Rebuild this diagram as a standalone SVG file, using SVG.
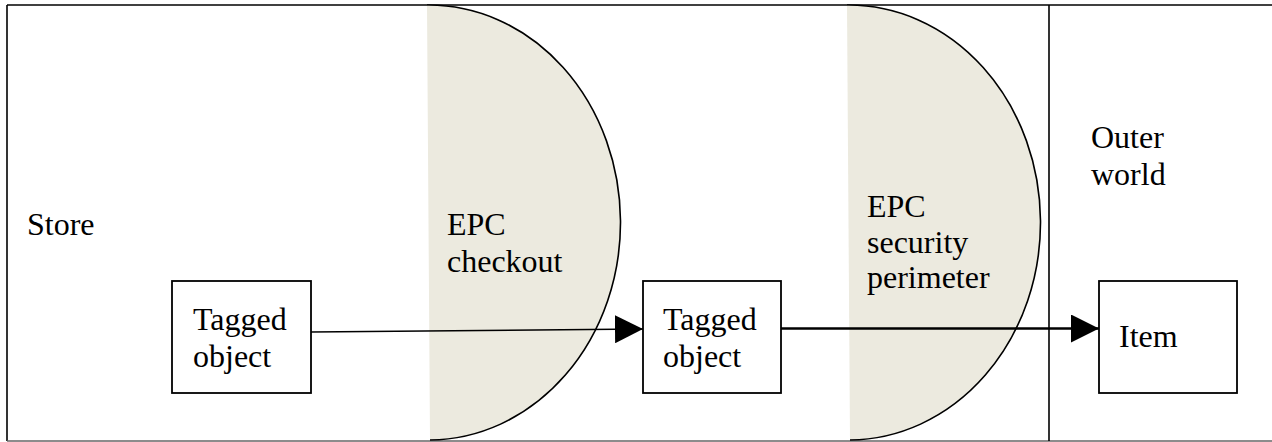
<svg xmlns="http://www.w3.org/2000/svg" width="1272" height="442" viewBox="0 0 1272 442">
  <style>
    .lbl { font-family: "Liberation Serif", "Times New Roman", serif; font-size: 32px; fill: #000; }
    .zone { fill: #ECEADF; stroke: none; }
    .arc { fill: none; stroke: #000; stroke-width: 1.6; }
    .box { fill: #fff; stroke: #000; stroke-width: 1.8; }
    .wire { fill: none; stroke: #000; }
    .edge { stroke: #000; stroke-width: 1.6; }
  </style>
  <defs>
    <marker id="head" markerUnits="userSpaceOnUse" markerWidth="28" markerHeight="28" refX="28" refY="14" orient="auto">
      <path d="M0,0 L28,14 L0,28 Z" fill="#000"/>
    </marker>
  </defs>

  <rect width="1272" height="442" fill="#fff"/>

  <!-- store frame and the boundary to the outside -->
  <g id="frame">
    <line class="edge" x1="7" y1="5" x2="1272" y2="5"/>
    <line class="edge" x1="7" y1="5" x2="7" y2="441"/>
    <line x1="7" y1="441" x2="1272" y2="441" stroke="#666" stroke-width="1.6"/>
    <line class="edge" x1="1049" y1="5" x2="1049" y2="441"/>
    <text class="lbl" x="27" y="235">Store</text>
    <text class="lbl" x="1091" y="148">Outer</text>
    <text class="lbl" x="1091" y="185">world</text>
  </g>

  <!-- checkout zone -->
  <g id="checkout">
    <path class="zone" d="M427,5 A192,217.5 0 0 1 430,440 Z"/>
    <path class="arc" d="M427,5 A192,217.5 0 0 1 430,440"/>
    <text class="lbl" x="447" y="235">EPC</text>
    <text class="lbl" x="447" y="272">checkout</text>
  </g>

  <!-- security perimeter zone -->
  <g id="perimeter">
    <path class="zone" d="M847,5 A192,217.5 0 0 1 850,440 Z"/>
    <path class="arc" d="M847,5 A192,217.5 0 0 1 850,440"/>
    <text class="lbl" x="867" y="217">EPC</text>
    <text class="lbl" x="867" y="253">security</text>
    <text class="lbl" x="867" y="288">perimeter</text>
  </g>

  <!-- connectors -->
  <g id="connectors">
    <line class="wire" x1="311" y1="332" x2="643" y2="329" stroke-width="1.6" marker-end="url(#head)"/>
    <line class="wire" x1="781" y1="328.5" x2="1099" y2="328.5" stroke-width="2.6" marker-end="url(#head)"/>
  </g>

  <g id="tagged-in-store">
    <rect class="box" x="172" y="281" width="139" height="112"/>
    <text class="lbl" x="193" y="330">Tagged</text>
    <text class="lbl" x="193" y="367">object</text>
  </g>

  <g id="tagged-after-checkout">
    <rect class="box" x="643" y="281" width="138" height="112"/>
    <text class="lbl" x="663" y="330">Tagged</text>
    <text class="lbl" x="663" y="367">object</text>
  </g>

  <g id="item">
    <rect class="box" x="1099" y="281" width="138" height="112"/>
    <text class="lbl" x="1119" y="347">Item</text>
  </g>
</svg>
